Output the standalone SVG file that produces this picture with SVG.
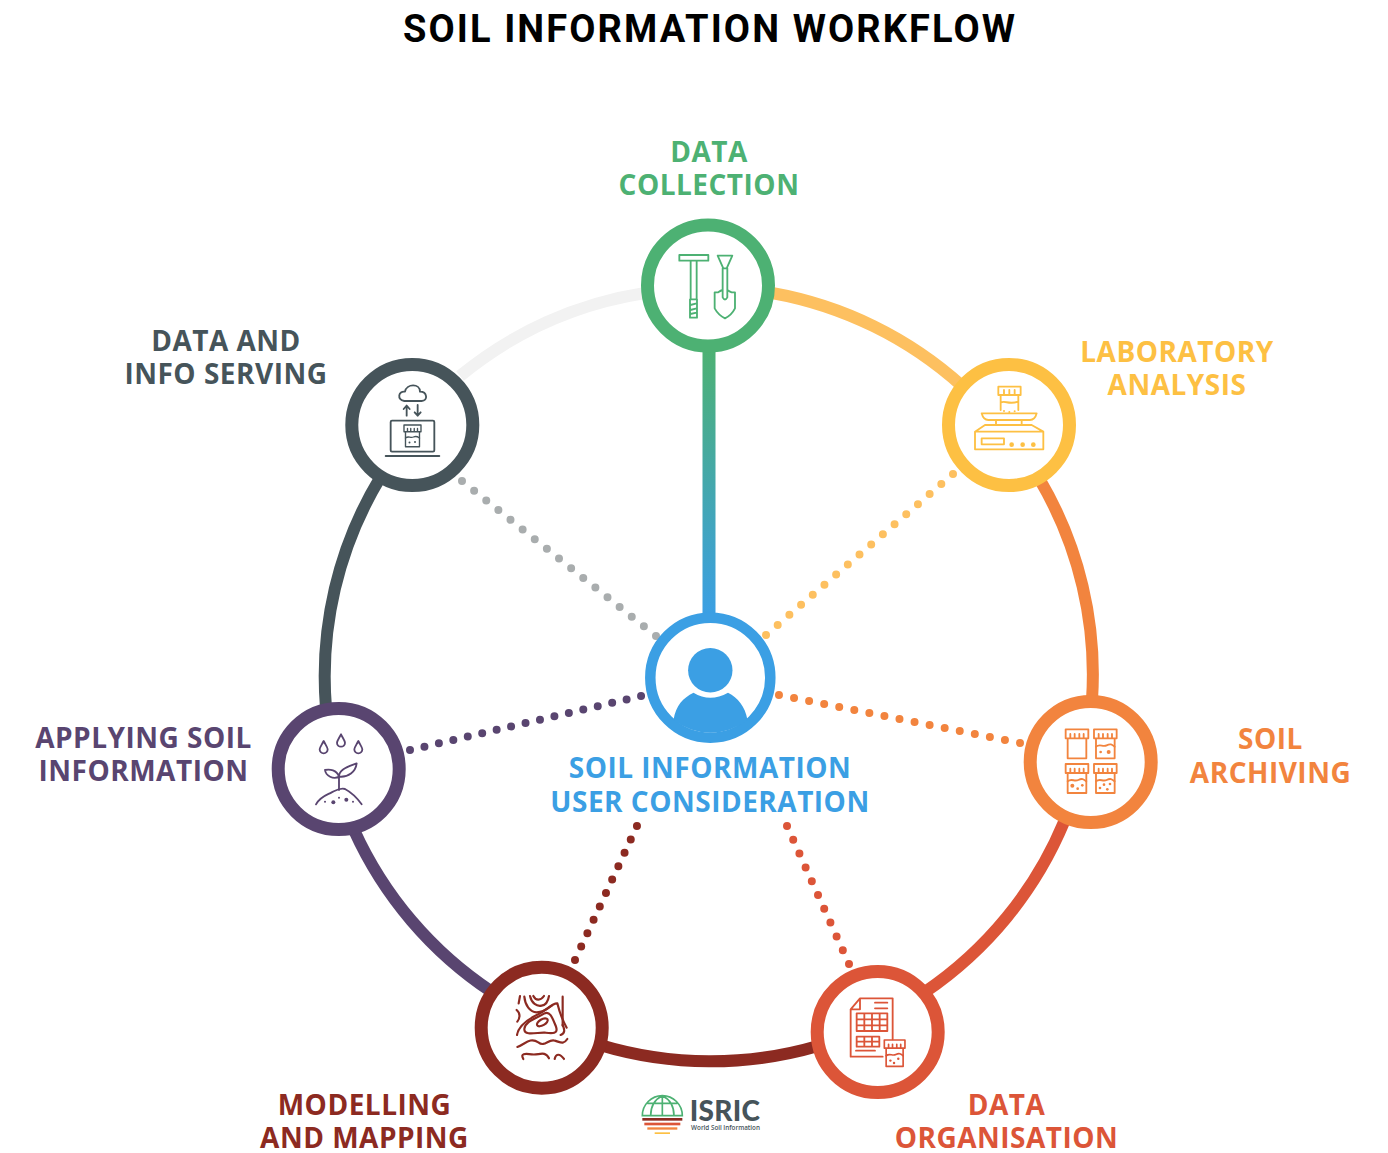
<svg xmlns="http://www.w3.org/2000/svg" width="1388" height="1153" viewBox="0 0 1388 1153">
<style>
text{font-family:"Open Sans","Liberation Sans",sans-serif;font-weight:700;font-size:28px;text-anchor:middle;letter-spacing:.5px}
.title{font-family:Roboto,"Liberation Sans",sans-serif;font-weight:700;font-size:38px;letter-spacing:2.1px}
.ring{fill:#fff;stroke-width:13}
.arc{fill:none;stroke-width:12}
.dot{fill:none;stroke-width:8;stroke-linecap:round}
.ic{fill:none;stroke-width:5.500;stroke-linecap:round;stroke-linejoin:round}
.green{color:#4db173}.yellow{color:#fdc043}.orange{color:#f2843e}.red{color:#dc5538}.maroon{color:#8c2a21}.purple{color:#594570}.slate{color:#46545a}.blue{color:#3b9fe4}
.c{stroke:currentColor}.f{fill:currentColor;stroke:none}.t{fill:currentColor}
</style>
<defs>
<linearGradient id="spoke" gradientUnits="userSpaceOnUse" x1="0" y1="350" x2="0" y2="615"><stop offset="0" stop-color="#4db173"/><stop offset="1" stop-color="#3b9fe4"/></linearGradient>
<g id="jar"><path d="M0 0H68V27H0ZM6 27V87H62V27M14 27V14M27 27V14M41 27V14M54 27V14"/></g>
<g id="wave"><path d="M6 52C18 42 26 54 38 48S54 46 62 52"/></g>
</defs>
<text class="title" x="710" y="42" fill="#000">SOIL INFORMATION WORKFLOW</text>
<g id="connectors">
<path class="arc" stroke="#f2f2f2" d="M645 293A384 384 0 0 0 460 376"/>
<path class="arc" stroke="#fdc060" d="M772 293A384 384 0 0 1 962 386"/>
<path class="arc" stroke="#f2843e" d="M1040 480A384 384 0 0 1 1092 700"/>
<path class="arc" stroke="#dc5538" d="M1064 822A384 384 0 0 1 925 992"/>
<path class="arc" stroke="#8c2a21" d="M600 1045A384 384 0 0 0 818 1046"/>
<path class="arc" stroke="#594570" d="M354 830A384 384 0 0 0 492 992"/>
<path class="arc" stroke="#46545a" d="M380 478A384 384 0 0 0 326 708"/>
<rect x="702.500" y="348" width="13" height="268" fill="url(#spoke)"/>
<path class="dot" stroke-dasharray="0 15.52" stroke="#a9adae" d="M462 481L656.500 636.400"/>
<path class="dot" stroke-dasharray="0 15.42" stroke="#fdc060" d="M953 474L765.600 635.300"/>
<path class="dot" stroke-dasharray="0 15.36" stroke="#f2843e" d="M1020 743L778.500 694.900"/>
<path class="dot" stroke-dasharray="0 15.13" stroke="#dc5538" d="M849 964L786.800 825.500"/>
<path class="dot" stroke-dasharray="0 14.76" stroke="#8c2a21" d="M575 960L637.200 825.500"/>
<path class="dot" stroke-dasharray="0 14.83" stroke="#594570" d="M410 750L641.500 695.900"/>
</g>
<g id="node-user" class="blue">
<circle cx="710.300" cy="677.700" r="60" fill="#fff" stroke="currentColor" stroke-width="10.500"/>
<circle class="f" cx="710.300" cy="670.300" r="22.200"/>
<path class="f" d="M673.500 720C676 705 683 698 693.500 692.700Q710 703 728 692.700C738 698 745 706 747.500 720A60 60 0 0 1 673.500 720Z"/>
<text class="t" x="710" y="778">SOIL INFORMATION</text>
<text class="t" x="710" y="812">USER CONSIDERATION</text>
</g>
<g id="node-collection" class="green">
<circle class="ring c" cx="708" cy="285.500" r="60.500"/>
<g class="ic c" transform="translate(620 210) scale(.3333)">
<path d="M178 135H265V152H178ZM212 152V268H230V152M210 268H231V323H210ZM211 285L230 280M211 300L230 295M211 312L230 308"/>
<path d="M293 137H337L320 175H310ZM308 175V240C300 242 298 245 295 247H284V295Q295 315 315 325Q335 315 345 295V247H335C330 245 325 242 322 240V175M308 240V262Q315 275 322 262V240"/>
</g>
<text class="t" x="709" y="162">DATA</text><text class="t" x="709" y="195">COLLECTION</text>
</g>
<g id="node-laboratory" class="yellow">
<circle class="ring c" cx="1009" cy="425" r="60.500"/>
<g class="ic c" transform="translate(930 350) scale(.3333)">
<path d="M205 110H272V135H205ZM212 135V180M265 135V180M222 135V120M238 135V120M254 135V120M212 158C225 150 235 165 265 155"/>
<path d="M155 190H320Q315 210 300 210H175Q160 210 155 190ZM198 210V225M275 210V225M165 225H305L340 245V298H135V245ZM135 245H340M155 265H222V283H155Z"/>
<circle class="f" cx="245" cy="284" r="7"/><circle class="f" cx="278" cy="284" r="7"/><circle class="f" cx="310" cy="284" r="7"/>
<circle class="f" cx="222" cy="183" r="3"/><circle class="f" cx="238" cy="186" r="3"/><circle class="f" cx="254" cy="184" r="3"/>
</g>
<text class="t" x="1177" y="362">LABORATORY</text><text class="t" x="1177" y="395">ANALYSIS</text>
</g>
<g id="node-archiving" class="orange">
<circle class="ring c" cx="1090.700" cy="762" r="60.500"/>
<g class="ic c" transform="translate(1015 690) scale(.3333)">
<use href="#jar" x="152" y="118"/>
<g transform="translate(237 118)"><use href="#jar"/><use href="#wave"/><circle class="f" cx="20" cy="68" r="4"/><circle class="f" cx="44" cy="68" r="6"/></g>
<g transform="translate(152 222)"><use href="#jar"/><use href="#wave"/><circle class="f" cx="20" cy="65" r="6"/><circle class="f" cx="36" cy="74" r="4"/><circle class="f" cx="50" cy="64" r="4"/></g>
<g transform="translate(237 222)"><use href="#jar"/><use href="#wave"/><circle class="f" cx="18" cy="72" r="4"/><circle class="f" cx="30" cy="62" r="4"/><circle class="f" cx="48" cy="60" r="4"/><circle class="f" cx="40" cy="76" r="4"/></g>
</g>
<text class="t" x="1270.500" y="749">SOIL</text><text class="t" x="1270.500" y="783">ARCHIVING</text>
</g>
<g id="node-organisation" class="red">
<circle class="ring c" cx="877.700" cy="1032" r="60.500"/>
<g class="ic c" transform="translate(800 960) scale(.3333)">
<path d="M152 148L180 115H278V238M180 115V148H152V290H248M225 128H262M225 145H262M168 272H225"/>
<path d="M170 160H262V213H170ZM170 178H262M170 196H262M193 160V213M216 160V213M239 160V213M170 230H238V260H170ZM170 245H238M193 230V260M216 230V260"/>
<g transform="translate(253 240) scale(.91)"><use href="#jar"/><use href="#wave"/><circle class="f" cx="20" cy="68" r="4"/><circle class="f" cx="32" cy="76" r="4"/><circle class="f" cx="46" cy="62" r="4"/></g>
</g>
<text class="t" x="1006.500" y="1115">DATA</text><text class="t" x="1006.500" y="1148">ORGANISATION</text>
</g>
<g id="node-modelling" class="maroon">
<circle class="ring c" cx="541.700" cy="1027.700" r="60.500"/>
<g class="ic c" transform="translate(470 955) scale(.3333)" style="stroke-width:6.500">
<ellipse cx="217" cy="202" rx="18" ry="9" transform="rotate(-30 217 202)"/>
<path d="M163 222C165 198 200 190 222 176C240 165 248 190 258 215C266 238 245 235 225 233C205 231 162 245 163 222Z"/>
<path d="M141 240C146 210 175 192 205 178C230 165 248 143 262 145C268 170 280 200 290 218M272 240C285 235 285 225 278 210"/>
<path d="M163 125C165 150 180 172 200 172C220 172 235 160 245 152M180 123C185 145 200 155 215 152C228 150 235 135 237 123M190 123C197 137 212 138 222 123M278 125V212M150 123L146 145M140 165C152 175 150 190 142 200"/>
<path d="M142 276C165 268 180 245 205 262C225 278 235 250 255 257C272 262 280 270 292 252"/>
<path d="M160 312C150 295 165 295 185 298C205 302 225 285 237 310M254 312C258 295 270 295 282 312"/>
</g>
<text class="t" x="364.500" y="1115">MODELLING</text><text class="t" x="364.500" y="1148">AND MAPPING</text>
</g>
<g id="node-applying" class="purple">
<circle class="ring c" cx="338.700" cy="769" r="60.500"/>
<g class="ic c" transform="translate(265 695) scale(.3333)">
<path d="M176 138C170 150 164 158 164 163A12 12 0 0 0 188 163C188 158 182 150 176 138ZM228 118C222 130 216 138 216 143A12 12 0 0 0 240 143C240 138 234 130 228 118ZM280 138C274 150 268 158 268 163A12 12 0 0 0 292 163C292 158 286 150 280 138Z"/>
<path d="M222 285V245M222 245C215 225 195 222 180 225C182 242 205 255 222 245ZM222 245C222 222 250 215 275 205C272 230 250 248 222 245Z"/>
<path d="M153 328C165 305 185 300 200 292C215 285 225 278 240 282C255 290 270 300 290 328"/>
<circle class="f" cx="205" cy="322" r="6"/><circle class="f" cx="244" cy="314" r="6"/><circle class="f" cx="180" cy="320" r="3"/><circle class="f" cx="264" cy="320" r="3"/><circle class="f" cx="222" cy="308" r="3"/>
</g>
<text class="t" x="143.500" y="748">APPLYING SOIL</text><text class="t" x="143.500" y="781">INFORMATION</text>
</g>
<g id="node-serving" class="slate">
<circle class="ring c" cx="412.300" cy="425" r="60.500"/>
<g class="ic c" transform="translate(340 350) scale(.3333)">
<path d="M193 153C170 148 175 122 195 125C200 100 240 100 240 125C262 125 265 153 245 153Z"/>
<path d="M200 197V167M191 177L200 167L209 177M233 165V197M224 187L233 197L242 187"/>
<rect x="152" y="212" width="131" height="93" rx="4"/><path d="M137 318H298"/>
<g transform="translate(192 225) scale(.75)"><use href="#jar"/><use href="#wave"/><circle class="f" cx="22" cy="70" r="4"/><circle class="f" cx="44" cy="68" r="4"/></g>
</g>
<text class="t" x="226" y="351">DATA AND</text><text class="t" x="226" y="384">INFO SERVING</text>
</g>
<g id="logo">
<g transform="translate(630 1085) scale(.3333)">
<g fill="none" stroke="#4db173" stroke-width="5">
<path d="M37 92A60 60 0 0 1 157 92ZM97 32V92M97 32C70 45 62 70 62 92M97 32C124 45 132 70 132 92M52 55H142"/>
</g>
<rect x="37" y="99" width="120" height="8" fill="#8c2a21"/><rect x="43" y="113" width="108" height="8" fill="#dc5538"/><rect x="52" y="127" width="90" height="7" fill="#f2843e"/><rect x="74" y="142" width="46" height="5" fill="#fdc043"/>
</g>
<text x="725" y="1120.500" style="font-family:Lato,sans-serif;font-weight:900;font-size:28px;letter-spacing:.3px" fill="#46545a">ISRIC</text>
<text x="725.500" y="1130" style="font-size:6.300px;font-weight:600;letter-spacing:0" fill="#46545a">World Soil Information</text>
</g>
</svg>
